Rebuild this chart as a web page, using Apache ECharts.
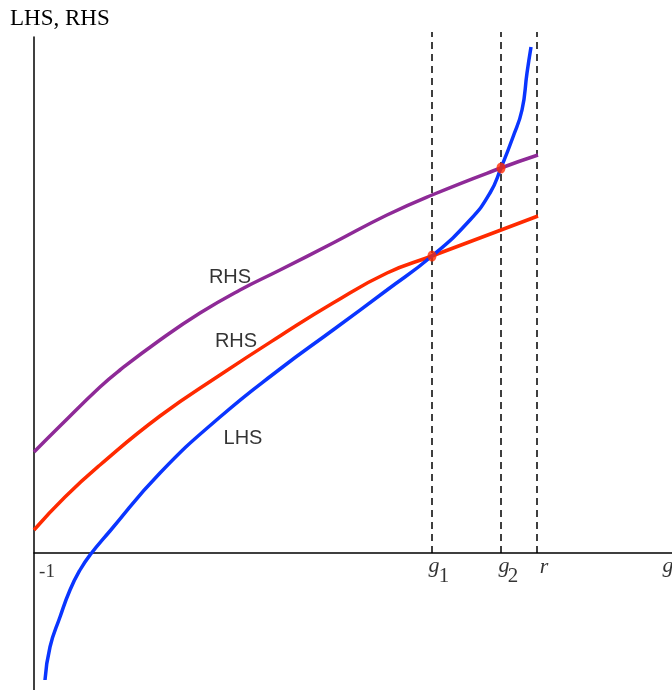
<!DOCTYPE html>
<html>
<head>
<meta charset="utf-8">
<script src="https://cdn.jsdelivr.net/npm/echarts@6/dist/echarts.min.js"></script>
<style>html,body{margin:0;padding:0;background:#fff}#c{width:672px;height:690px}</style>
</head>
<body>
<div id="c"></div>
<script>
// x: growth rate g (axis starts at -1), y: LHS / RHS (arbitrary units)
const lhsData = [[-0.89,-1.27],[-0.84,-0.94],[-0.74,-0.64],[-0.64,-0.37],[-0.54,-0.17],[-0.44,-0.02],[-0.24,0.22],[0.26,0.80],[0.86,1.36],[1.46,1.84],[1.99,2.23],[2.53,2.63],[2.98,2.97],[3.36,3.33],[3.56,3.60],[3.67,3.85],[3.79,4.16],[3.88,4.43],[3.93,4.80],[3.97,5.06]];
const rhsLowData = [[-1.0,0.23],[-0.69,0.56],[-0.34,0.88],[0.26,1.37],[0.86,1.78],[1.46,2.17],[1.99,2.50],[2.53,2.80],[2.98,2.97],[3.67,3.23],[4.04,3.37]];
const rhsHighData = [[-1.0,1.01],[-0.74,1.27],[-0.34,1.66],[-0.14,1.83],[0.26,2.13],[0.66,2.40],[1.06,2.63],[1.46,2.83],[1.99,3.10],[2.53,3.38],[2.98,3.58],[3.67,3.85],[4.04,3.98]];
const intersections = [[2.98,2.97],[3.67,3.85]];
const g1 = 2.98, g2 = 3.67, r = 4.03;
const dashTop = 5.21;
const curveLabels = [
  {text:'RHS', at:[0.96,2.76]},
  {text:'RHS', at:[1.02,2.12]},
  {text:'LHS', at:[1.09,1.15]}
];
const tickLabels = [
  {text:'-1', at:-0.87, italic:false, size:19, dx:0, dy:19},
  {text:'g', at:g1, italic:true, size:22, dx:2, dy:13},
  {text:'1', at:g1, italic:false, size:21, dx:12, dy:23},
  {text:'g', at:g2, italic:true, size:22, dx:3, dy:13},
  {text:'2', at:g2, italic:false, size:21, dx:12, dy:23},
  {text:'r', at:r, italic:true, size:22, dx:7, dy:14},
  {text:'g', at:5.34, italic:true, size:22, dx:0, dy:13}
];
const yTitle = 'LHS, RHS';

const serif = '"Liberation Serif", "DejaVu Serif", serif';
const sans = '"Liberation Sans", Arial, sans-serif';

const chart = echarts.init(document.getElementById('c'), null, {renderer:'canvas'});
function vline(x){ return {type:'line', data:[[x,0],[x,dashTop]], clip:false, symbol:'none', silent:true,
  lineStyle:{color:'#000', width:1.5, type:[7,5]}, z:1}; }
chart.setOption({
  animation:false,
  grid:{left:34, right:0, top:37, bottom:0},
  xAxis:{type:'value', min:-1, max:5.38, axisLine:{onZero:true, lineStyle:{color:'#000', width:1.5}},
    axisTick:{show:false}, axisLabel:{show:false}, splitLine:{show:false}},
  yAxis:{type:'value', min:-1.37, max:5.16, axisLine:{show:true, onZero:false, lineStyle:{color:'#000', width:1.5}},
    axisTick:{show:false}, axisLabel:{show:false}, splitLine:{show:false}},
  graphic:[{type:'text', left:10, top:7, style:{text:yTitle, font:'23px ' + serif, fill:'#000'}}],
  series:[
    vline(g1), vline(g2), vline(r),
    {type:'line', name:'RHS high', data:rhsHighData, smooth:0.5, symbol:'none', lineStyle:{color:'#8e2a97', width:3.5}, z:3},
    {type:'line', name:'RHS low', data:rhsLowData, smooth:0.5, symbol:'none', lineStyle:{color:'#ff2a00', width:3.5}, z:3},
    {type:'line', name:'LHS', data:lhsData, smooth:0.5, clip:false, symbol:'none', lineStyle:{color:'#0a35ff', width:3.5}, z:4},
    {type:'scatter', data:intersections, symbol:'circle', symbolSize:[9,11], itemStyle:{color:'#ff2a00'}, z:5},
    {type:'scatter', symbolSize:0, silent:true, z:6,
      data:curveLabels.map(d=>({value:d.at, label:{formatter:d.text}})),
      label:{show:true, position:'inside', color:'#000', fontFamily:sans, fontSize:20}},
    {type:'scatter', symbolSize:0, silent:true, z:6,
      data:tickLabels.map(d=>({value:[d.at,0], label:{formatter:d.text, fontStyle:d.italic?'italic':'normal', fontSize:d.size, offset:[d.dx,d.dy]}})),
      label:{show:true, position:'inside', color:'#000', fontFamily:serif}}
  ]
});
</script>
</body>
</html>
